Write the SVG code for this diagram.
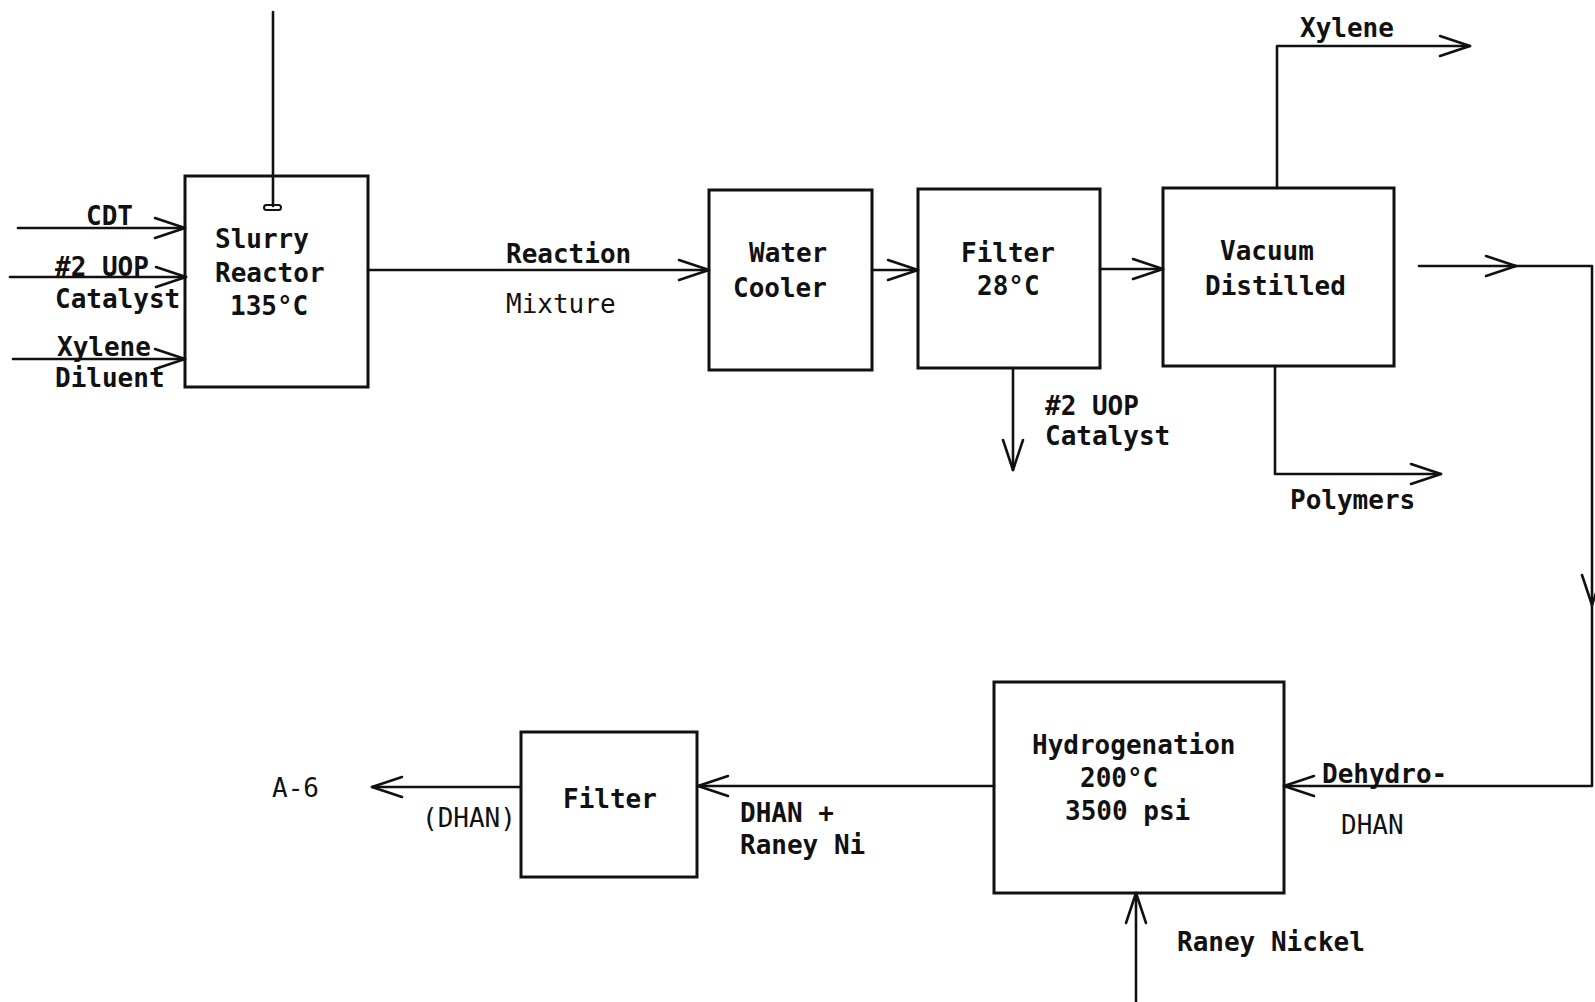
<svg xmlns="http://www.w3.org/2000/svg" width="1595" height="1002" viewBox="0 0 1595 1002">
<style>
.box{fill:none;stroke:#111;stroke-width:3}
.ln{fill:none;stroke:#111;stroke-width:2.6;stroke-linecap:round;stroke-linejoin:round}
.arr{marker-end:url(#ah)}
text{font-family:"DejaVu Sans Mono","Liberation Mono",monospace;font-size:26px;font-weight:bold;fill:#111}
.lt{font-weight:normal}
</style>
<defs>
<marker id="ah" markerUnits="userSpaceOnUse" viewBox="0 0 32 22" refX="31" refY="11" markerWidth="32" markerHeight="22" orient="auto" overflow="visible">
<path d="M1,1 L31,11 L1,21" fill="none" stroke="#111" stroke-width="2.6" stroke-linecap="round" stroke-linejoin="round"/>
</marker>
</defs>
<rect width="1595" height="1002" fill="#fff"/>

<g id="connectors">
<path class="ln arr" d="M18,228 L185,228"/>
<path class="ln arr" d="M10,277 L186,277"/>
<path class="ln arr" d="M13,359 L185,359"/>
<path class="ln" d="M273,12 L273,206"/>
<rect x="264" y="205" width="17" height="5" rx="2.5" fill="none" stroke="#111" stroke-width="2"/>
<path class="ln arr" d="M368,270 L709,270"/>
<path class="ln arr" d="M872,270 L918,270"/>
<path class="ln arr" d="M1100,269 L1163,269"/>
<path class="ln arr" d="M1013,368 L1013,470"/>
<path class="ln arr" d="M1277,188 L1277,46 L1470,46"/>
<path class="ln arr" d="M1275,366 L1275,474 L1441,474"/>
<path class="ln arr" d="M1419,266 L1516,266"/>
<path class="ln arr" d="M1516,266 L1592,266 L1592,605"/>
<path class="ln arr" d="M1592,605 L1592,786 L1284,786"/>
<path class="ln arr" d="M1136,1002 L1136,893"/>
<path class="ln arr" d="M994,786 L698,786"/>
<path class="ln arr" d="M521,787 L372,787"/>
</g>

<g id="inputs-labels">
<text x="86" y="225">CDT</text>
<text x="55" y="276">#2 UOP</text>
<text x="55" y="308">Catalyst</text>
<text x="57" y="356">Xylene</text>
<text x="55" y="387">Diluent</text>
<text x="506" y="263">Reaction</text>
<text x="506" y="313" class="lt">Mixture</text>
<text x="1045" y="415">#2 UOP</text>
<text x="1045" y="445">Catalyst</text>
<text x="1300" y="37">Xylene</text>
<text x="1290" y="509">Polymers</text>
<text x="1322" y="783">Dehydro-</text>
<text x="1341" y="834" class="lt">DHAN</text>
<text x="1177" y="951">Raney Nickel</text>
<text x="740" y="822">DHAN +</text>
<text x="740" y="854">Raney Ni</text>
<text x="422" y="827" class="lt">(DHAN)</text>
<text x="272" y="797" class="lt">A-6</text>
</g>

<g id="slurry-reactor">
<rect class="box" x="185" y="176" width="183" height="211"/>
<text x="215" y="248">Slurry</text>
<text x="215" y="282">Reactor</text>
<text x="230" y="315">135°C</text>
</g>

<g id="water-cooler">
<rect class="box" x="709" y="190" width="163" height="180"/>
<text x="749" y="262">Water</text>
<text x="733" y="297">Cooler</text>
</g>

<g id="filter-28">
<rect class="box" x="918" y="189" width="182" height="179"/>
<text x="961" y="262">Filter</text>
<text x="977" y="295">28°C</text>
</g>

<g id="vacuum-distilled">
<rect class="box" x="1163" y="188" width="231" height="178"/>
<text x="1220" y="260">Vacuum</text>
<text x="1205" y="295">Distilled</text>
</g>

<g id="hydrogenation">
<rect class="box" x="994" y="682" width="290" height="211"/>
<text x="1032" y="754">Hydrogenation</text>
<text x="1080" y="787">200°C</text>
<text x="1065" y="820">3500 psi</text>
</g>

<g id="filter">
<rect class="box" x="521" y="732" width="176" height="145"/>
<text x="563" y="808">Filter</text>
</g>
</svg>
